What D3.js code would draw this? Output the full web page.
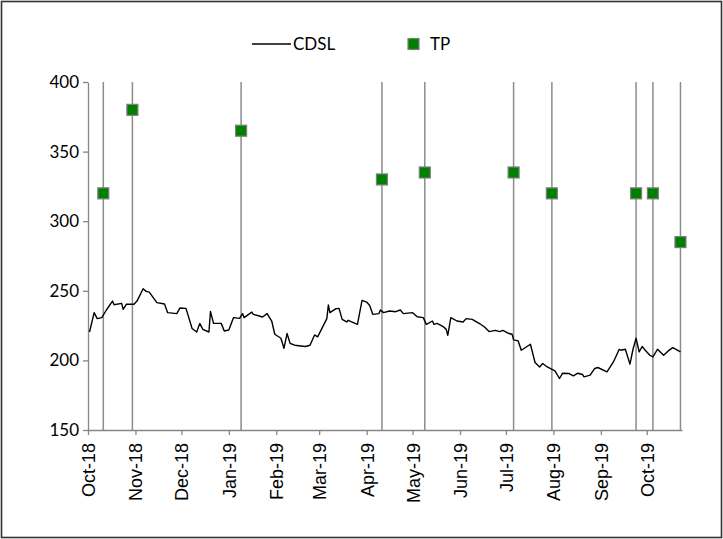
<!DOCTYPE html>
<html>
<head>
<meta charset="utf-8">
<script src="https://cdn.jsdelivr.net/npm/d3@7"></script>
<style>
  body { margin: 0; background: #fff; }
  svg { display: block; }
</style>
</head>
<body>
<div id="chart"></div>
<script>
// CDSL closing price
const cdslDates = [
  '2018-10-02','2018-10-05','2018-10-07','2018-10-10','2018-10-13','2018-10-17','2018-10-18','2018-10-23','2018-10-24','2018-10-26',
  '2018-10-31','2018-11-02','2018-11-06','2018-11-08','2018-11-10','2018-11-15','2018-11-20','2018-11-22','2018-11-28','2018-11-30',
  '2018-12-04','2018-12-08','2018-12-11','2018-12-13','2018-12-15','2018-12-19','2018-12-20','2018-12-22','2018-12-27','2018-12-29',
  '2019-01-01','2019-01-04','2019-01-08','2019-01-10','2019-01-11','2019-01-16','2019-01-17','2019-01-23','2019-01-26','2019-01-29',
  '2019-01-31','2019-02-04','2019-02-06','2019-02-08','2019-02-10','2019-02-13','2019-02-20','2019-02-23','2019-02-26','2019-02-28',
  '2019-03-06','2019-03-07','2019-03-08','2019-03-12','2019-03-14','2019-03-16','2019-03-19','2019-03-20','2019-03-26','2019-03-29',
  '2019-04-01','2019-04-03','2019-04-05','2019-04-09','2019-04-10','2019-04-12','2019-04-16','2019-04-20','2019-04-23','2019-04-25',
  '2019-05-01','2019-05-04','2019-05-08','2019-05-10','2019-05-14','2019-05-15','2019-05-17','2019-05-21','2019-05-23','2019-05-24',
  '2019-05-26','2019-05-30','2019-06-03','2019-06-05','2019-06-09','2019-06-14','2019-06-17','2019-06-20','2019-06-24','2019-06-27',
  '2019-06-29','2019-07-03','2019-07-05','2019-07-06','2019-07-09','2019-07-11','2019-07-17','2019-07-20','2019-07-23','2019-07-25',
  '2019-07-28','2019-08-02','2019-08-05','2019-08-07','2019-08-11','2019-08-14','2019-08-17','2019-08-20','2019-08-21','2019-08-25',
  '2019-08-28','2019-08-30','2019-09-05','2019-09-09','2019-09-11','2019-09-13','2019-09-14','2019-09-17','2019-09-20','2019-09-22',
  '2019-09-24','2019-09-26','2019-09-28','2019-09-30','2019-10-03','2019-10-05','2019-10-08','2019-10-12','2019-10-15','2019-10-18',
  '2019-10-23'
]
const cdslValues = [
  220.4, 234.3, 230, 230.7, 236.2, 242.6, 240, 241, 236.7, 240.3,
  240.3, 242.6, 251.5, 249.6, 249, 241.5, 240.5, 234.3, 233.6, 237.6,
  237.4, 222.9, 220.4, 226.6, 222.3, 220.4, 235.2, 226.6, 226.6, 221.1,
  221.8, 230.7, 230.2, 233.6, 230.7, 234.7, 233.1, 231.2, 233.6, 228.3,
  218.8, 215.9, 208.7, 219.3, 212.3, 210.9, 210, 210.9, 218.3, 216.9,
  230, 239.8, 234.3, 237.2, 237.4, 229.5, 227.6, 228.8, 225.9, 243.1,
  241.9, 239.5, 233.1, 233.6, 236.2, 234.3, 235.5, 235, 236.2, 233.6,
  234.3, 231.4, 230.7, 225.9, 228.3, 225.9, 226.6, 224.3, 222.3, 218,
  230.7, 228.3, 227.6, 230, 229.5, 226.3, 224, 220.7, 221.6, 220.7,
  221.6, 219.3, 218.8, 214.7, 214, 207.3, 211.6, 198.5, 195.3, 197.8,
  195.3, 192.5, 187, 190.8, 190.6, 188.9, 190.8, 189.9, 188.2, 189.4,
  194.2, 194.9, 191.8, 198.5, 203.2, 208, 207.3, 208, 197.3, 208,
  215.9, 206.1, 210, 207.3, 203.7, 202.5, 208, 203.7, 206.8, 209.2,
  206.1
]

// TP (target price) calls
const tpDates = ['2018-10-11','2018-10-30','2019-01-09','2019-04-11','2019-05-09','2019-07-06','2019-07-31','2019-09-24','2019-10-05','2019-10-23']
const tpValues = [320, 380, 365, 330, 335, 335, 320, 320, 320, 285]

const yTicks = [150, 200, 250, 300, 350, 400]

const width = 723
const height = 539
const margin = {left: 88, right: 41, top: 82, bottom: 109}

const parse = d3.timeParse('%Y-%m-%d')
const cdsl = cdslDates.map((d, i) => ({date: parse(d), value: cdslValues[i]}))
const tp = tpDates.map((d, i) => ({date: parse(d), value: tpValues[i]}))

const svg = d3.select('#chart').append('svg')
    .attr('width', width)
    .attr('height', height)

// chart border
svg.append('rect')
    .attr('x', 1.5).attr('y', 1.5)
    .attr('width', width - 3).attr('height', height - 3)
    .attr('fill', '#fff')
    .attr('stroke', '#333')
    .attr('stroke-width', 1.6)

const x = d3.scaleTime()
    .domain([parse('2018-10-01'), parse('2019-10-24')])
    .range([margin.left, width - margin.right])

const y = d3.scaleLinear()
    .domain([150, 400])
    .range([height - margin.bottom, margin.top])

// vertical TP lines
svg.append('g')
    .selectAll('line')
    .data(tp)
    .enter()
    .append('line')
    .attr('x1', d => x(d.date))
    .attr('x2', d => x(d.date))
    .attr('y1', y(150))
    .attr('y2', y(400))
    .attr('stroke', '#8c8c8c')
    .attr('stroke-width', 1.5)

// axes
const yAxis = svg.append('g')
    .attr('transform', 'translate(' + margin.left + ',0)')
    .call(d3.axisLeft(y).tickValues(yTicks).tickSize(5).tickSizeOuter(0).tickPadding(4))
yAxis.selectAll('line, path').attr('stroke', '#868686').attr('stroke-width', 1.3)
yAxis.selectAll('text')
    .style('font-family', 'Lato, "Open Sans", sans-serif')
    .style('font-size', '17px')
    .attr('fill', '#000')

const xAxis = svg.append('g')
    .attr('transform', 'translate(0,' + y(150) + ')')
    .call(d3.axisBottom(x)
        .ticks(d3.timeMonth.every(1))
        .tickFormat(d3.timeFormat('%b-%y'))
        .tickSize(5).tickSizeOuter(0))
xAxis.selectAll('line, path').attr('stroke', '#868686').attr('stroke-width', 1.3)
xAxis.selectAll('text')
    .attr('transform', 'rotate(-90)')
    .attr('x', -13)
    .attr('y', 0)
    .attr('dy', '0.36em')
    .style('text-anchor', 'end')
    .style('font-family', '"Liberation Sans", Arial, sans-serif')
    .style('font-size', '18px')
    .attr('fill', '#000')

// CDSL line
const line = d3.line()
    .x(d => x(d.date))
    .y(d => y(d.value))

svg.append('path')
    .datum(cdsl)
    .attr('d', line)
    .attr('fill', 'none')
    .attr('stroke', '#000')
    .attr('stroke-width', 1.4)
    .attr('stroke-linejoin', 'round')

// TP markers
svg.append('g')
    .selectAll('rect')
    .data(tp)
    .enter()
    .append('rect')
    .attr('x', d => x(d.date) - 5.5)
    .attr('y', d => y(d.value) - 5.5)
    .attr('width', 11)
    .attr('height', 11)
    .attr('fill', '#008000')
    .attr('stroke', '#7f7f7f')
    .attr('stroke-width', 1.2)

// legend
const legend = svg.append('g')
    .style('font-family', 'Lato, "Open Sans", sans-serif')
    .style('font-size', '17px')
legend.append('line')
    .attr('x1', 252).attr('x2', 291)
    .attr('y1', 44).attr('y2', 44)
    .attr('stroke', '#000').attr('stroke-width', 1.4)
legend.append('text')
    .attr('x', 293).attr('y', 44).attr('dy', '0.35em')
    .text('CDSL')
legend.append('rect')
    .attr('x', 408).attr('y', 38.5)
    .attr('width', 11).attr('height', 11)
    .attr('fill', '#008000')
    .attr('stroke', '#7f7f7f')
    .attr('stroke-width', 1.2)
legend.append('text')
    .attr('x', 430).attr('y', 44).attr('dy', '0.35em')
    .text('TP')
</script>
</body>
</html>
